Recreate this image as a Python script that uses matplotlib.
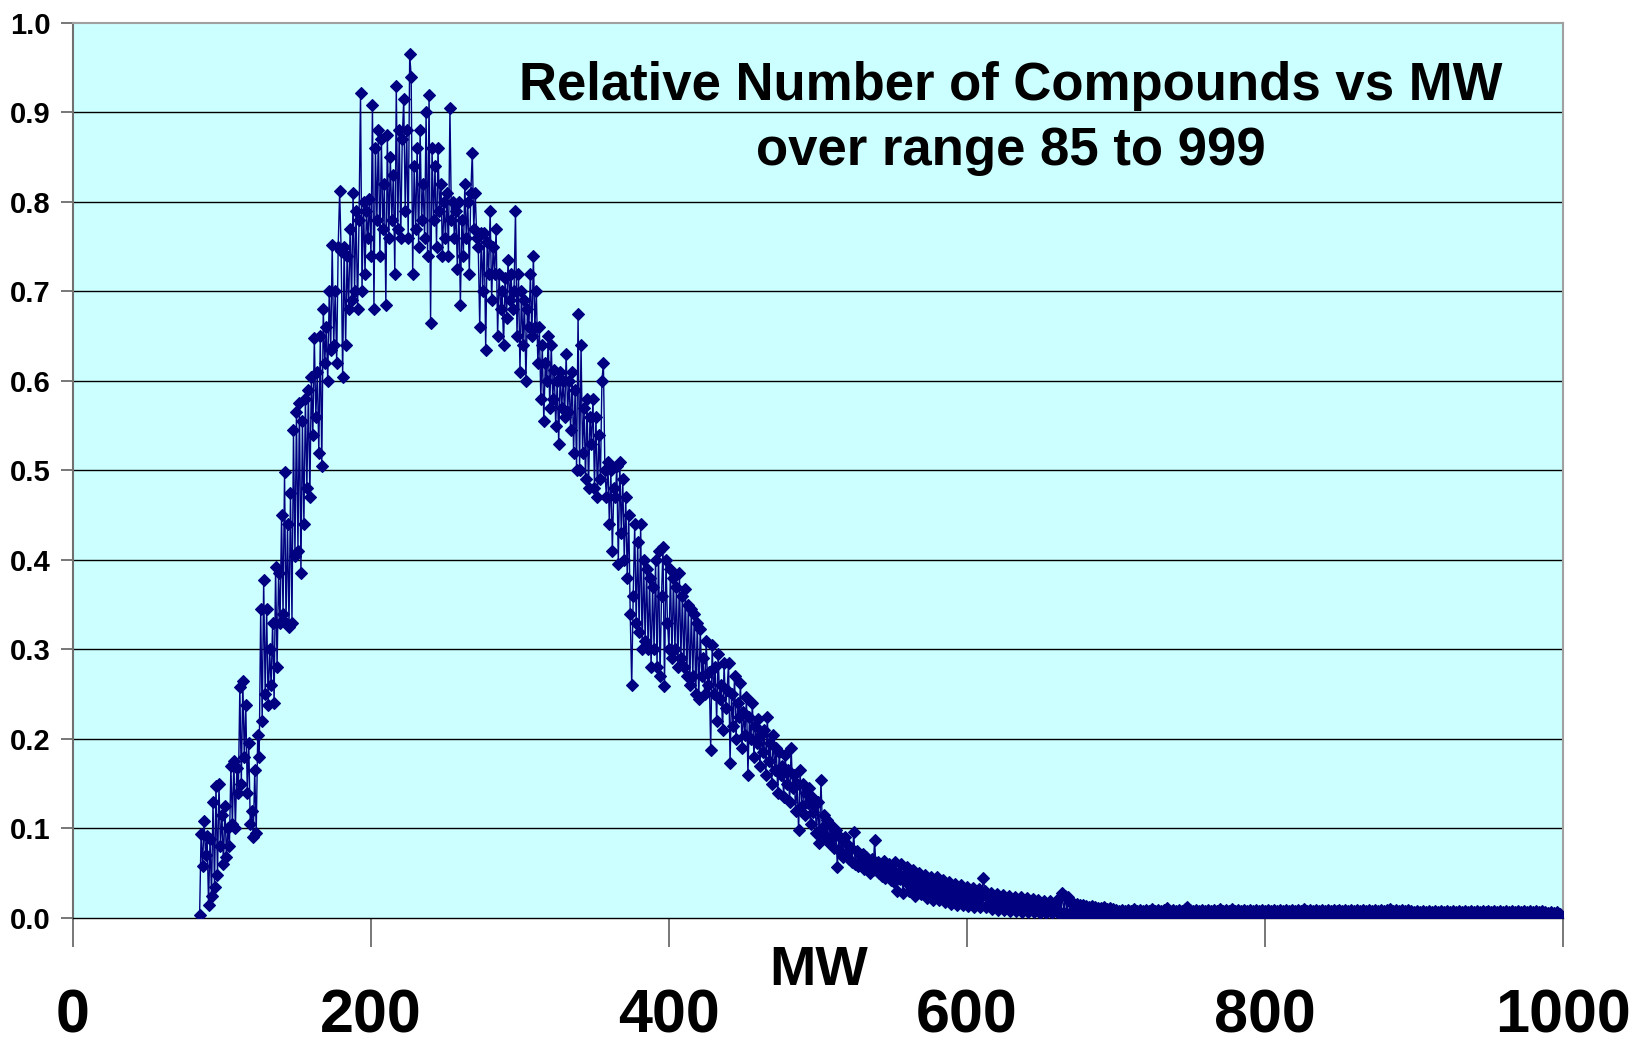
import numpy as np
import matplotlib
matplotlib.use("Agg")
import matplotlib.pyplot as plt

# molecular weights 85..999, one value per integer MW
mw_start = 85
mw_end = 999

# relative number of compounds (rows of 10 MW)
rel_085_199 = [
    0.003, 0.094, 0.058, 0.108, 0.070,
    0.092, 0.015, 0.088, 0.025, 0.130, 0.035, 0.148, 0.048, 0.150, 0.080,
    0.115, 0.060, 0.125, 0.068, 0.100, 0.080, 0.170, 0.105, 0.175, 0.100,
    0.168, 0.140, 0.258, 0.150, 0.265, 0.180, 0.238, 0.140, 0.195, 0.105,
    0.120, 0.090, 0.165, 0.095, 0.205, 0.180, 0.345, 0.220, 0.378, 0.250,
    0.345, 0.238, 0.300, 0.260, 0.330, 0.240, 0.392, 0.280, 0.385, 0.330,
    0.450, 0.340, 0.498, 0.330, 0.440, 0.325, 0.475, 0.330, 0.545, 0.405,
    0.565, 0.410, 0.575, 0.385, 0.555, 0.440, 0.580, 0.480, 0.590, 0.470,
    0.605, 0.540, 0.648, 0.560, 0.610, 0.520, 0.650, 0.505, 0.680, 0.620,
    0.660, 0.600, 0.700, 0.635, 0.752, 0.640, 0.700, 0.620, 0.750, 0.812,
    0.745, 0.605, 0.750, 0.640, 0.740, 0.680, 0.770, 0.690, 0.810, 0.700,
    0.790, 0.680, 0.780, 0.922, 0.700, 0.800, 0.720, 0.790, 0.760, 0.803,
]
rel_200_399 = [
    0.740, 0.908, 0.680, 0.860, 0.780, 0.880, 0.740, 0.870, 0.770, 0.820,
    0.685, 0.875, 0.760, 0.850, 0.780, 0.830, 0.720, 0.930, 0.770, 0.880,
    0.760, 0.870, 0.915, 0.790, 0.880, 0.760, 0.965, 0.940, 0.720, 0.840,
    0.770, 0.860, 0.750, 0.880, 0.780, 0.820, 0.760, 0.900, 0.740, 0.920,
    0.665, 0.860, 0.780, 0.840, 0.750, 0.860, 0.790, 0.820, 0.740, 0.800,
    0.760, 0.810, 0.740, 0.905, 0.780, 0.800, 0.760, 0.790, 0.725, 0.800,
    0.685, 0.780, 0.740, 0.820, 0.760, 0.800, 0.720, 0.810, 0.855, 0.770,
    0.810, 0.760, 0.750, 0.660, 0.765, 0.700, 0.765, 0.635, 0.755, 0.720,
    0.790, 0.690, 0.750, 0.720, 0.770, 0.650, 0.720, 0.680, 0.700, 0.640,
    0.715, 0.670, 0.735, 0.690, 0.720, 0.680, 0.700, 0.790, 0.650, 0.720,
    0.610, 0.700, 0.640, 0.690, 0.600, 0.680, 0.660, 0.720, 0.650, 0.740,
    0.660, 0.700, 0.620, 0.660, 0.580, 0.640, 0.555, 0.620, 0.600, 0.650,
    0.570, 0.640, 0.580, 0.612, 0.550, 0.600, 0.530, 0.610, 0.570, 0.600,
    0.560, 0.630, 0.565, 0.600, 0.545, 0.610, 0.520, 0.590, 0.500, 0.675,
    0.500, 0.640, 0.520, 0.570, 0.490, 0.580, 0.480, 0.560, 0.530, 0.580,
    0.480, 0.560, 0.470, 0.540, 0.490, 0.600, 0.620, 0.500, 0.470, 0.510,
    0.440, 0.500, 0.410, 0.480, 0.470, 0.505, 0.395, 0.510, 0.430, 0.490,
    0.400, 0.470, 0.380, 0.450, 0.340, 0.260, 0.360, 0.440, 0.330, 0.420,
    0.320, 0.440, 0.300, 0.400, 0.310, 0.390, 0.300, 0.380, 0.280, 0.370,
    0.300, 0.400, 0.280, 0.410, 0.270, 0.360, 0.415, 0.259, 0.400, 0.330,
]
rel_400_679 = [
    0.300, 0.390, 0.290, 0.380, 0.300, 0.370, 0.280, 0.385, 0.290, 0.360,
    0.280, 0.368, 0.270, 0.350, 0.260, 0.345, 0.270, 0.340, 0.250, 0.330,
    0.245, 0.323, 0.270, 0.290, 0.250, 0.310, 0.260, 0.275, 0.188, 0.305,
    0.250, 0.280, 0.220, 0.295, 0.245, 0.260, 0.210, 0.285, 0.235, 0.255,
    0.285, 0.173, 0.250, 0.215, 0.270, 0.200, 0.240, 0.225, 0.262, 0.190,
    0.230, 0.205, 0.247, 0.160, 0.225, 0.200, 0.240, 0.180, 0.215, 0.195,
    0.222, 0.170, 0.205, 0.185, 0.210, 0.160, 0.225, 0.175, 0.195, 0.150,
    0.205, 0.165, 0.190, 0.140, 0.185, 0.160, 0.170, 0.135, 0.182, 0.150,
    0.165, 0.130, 0.190, 0.145, 0.160, 0.120, 0.150, 0.098, 0.165, 0.125,
    0.150, 0.115, 0.140, 0.128, 0.145, 0.105, 0.135, 0.118, 0.128, 0.095,
    0.130, 0.084, 0.154, 0.100, 0.115, 0.092, 0.110, 0.085, 0.105, 0.090,
    0.100, 0.078, 0.098, 0.057, 0.092, 0.075, 0.088, 0.068, 0.090, 0.070,
    0.082, 0.066, 0.078, 0.063, 0.096, 0.060, 0.075, 0.058, 0.070, 0.062,
    0.072, 0.055, 0.068, 0.058, 0.065, 0.050, 0.066, 0.054, 0.087, 0.054,
    0.062, 0.050, 0.058, 0.047, 0.064, 0.045, 0.056, 0.048, 0.060, 0.042,
    0.055, 0.040, 0.062, 0.030, 0.050, 0.044, 0.060, 0.028, 0.048, 0.040,
    0.057, 0.030, 0.045, 0.038, 0.054, 0.025, 0.046, 0.035, 0.050, 0.027,
    0.040, 0.032, 0.048, 0.022, 0.042, 0.030, 0.046, 0.020, 0.038, 0.030,
    0.046, 0.020, 0.035, 0.028, 0.042, 0.018, 0.036, 0.025, 0.040, 0.016,
    0.032, 0.024, 0.038, 0.015, 0.033, 0.022, 0.037, 0.014, 0.030, 0.020,
    0.035, 0.013, 0.028, 0.020, 0.033, 0.012, 0.026, 0.018, 0.032, 0.012,
    0.025, 0.045, 0.030, 0.012, 0.022, 0.017, 0.028, 0.010, 0.024, 0.016,
    0.027, 0.009, 0.020, 0.015, 0.026, 0.009, 0.019, 0.014, 0.025, 0.008,
    0.018, 0.013, 0.024, 0.008, 0.017, 0.013, 0.023, 0.007, 0.016, 0.012,
    0.022, 0.007, 0.016, 0.012, 0.021, 0.007, 0.015, 0.011, 0.020, 0.006,
    0.015, 0.011, 0.019, 0.006, 0.014, 0.010, 0.019, 0.006, 0.013, 0.010,
    0.018, 0.006, 0.022, 0.006, 0.028, 0.006, 0.025, 0.005, 0.024, 0.006,
    0.017, 0.006, 0.016, 0.005, 0.016, 0.005, 0.015, 0.005, 0.015, 0.005,
]
rel_680_999 = [
    0.013, 0.005, 0.012, 0.004, 0.013, 0.005, 0.012, 0.004, 0.011, 0.004,
    0.011, 0.004, 0.012, 0.004, 0.010, 0.004, 0.011, 0.003, 0.010, 0.004,
    0.009, 0.003, 0.008, 0.004, 0.009, 0.003, 0.008, 0.003, 0.009, 0.004,
    0.008, 0.003, 0.010, 0.004, 0.008, 0.003, 0.009, 0.003, 0.008, 0.004,
    0.009, 0.003, 0.008, 0.003, 0.010, 0.004, 0.008, 0.003, 0.009, 0.003,
    0.008, 0.004, 0.009, 0.003, 0.011, 0.003, 0.008, 0.004, 0.009, 0.003,
    0.008, 0.003, 0.009, 0.004, 0.008, 0.003, 0.010, 0.004, 0.012, 0.003,
    0.009, 0.003, 0.008, 0.004, 0.009, 0.003, 0.008, 0.003, 0.009, 0.004,
    0.008, 0.003, 0.009, 0.003, 0.008, 0.004, 0.009, 0.003, 0.008, 0.003,
    0.010, 0.003, 0.008, 0.004, 0.009, 0.003, 0.008, 0.003, 0.010, 0.004,
    0.008, 0.003, 0.009, 0.003, 0.008, 0.004, 0.009, 0.003, 0.008, 0.003,
    0.009, 0.004, 0.008, 0.003, 0.009, 0.003, 0.008, 0.004, 0.009, 0.003,
    0.008, 0.003, 0.009, 0.004, 0.008, 0.003, 0.009, 0.003, 0.008, 0.004,
    0.009, 0.003, 0.008, 0.003, 0.009, 0.004, 0.008, 0.003, 0.009, 0.003,
    0.008, 0.004, 0.009, 0.003, 0.008, 0.003, 0.010, 0.004, 0.008, 0.003,
    0.009, 0.003, 0.008, 0.004, 0.009, 0.003, 0.008, 0.003, 0.009, 0.004,
    0.008, 0.003, 0.009, 0.003, 0.008, 0.004, 0.009, 0.003, 0.008, 0.003,
    0.009, 0.004, 0.008, 0.003, 0.009, 0.003, 0.008, 0.004, 0.009, 0.003,
    0.008, 0.003, 0.009, 0.004, 0.008, 0.003, 0.009, 0.003, 0.008, 0.004,
    0.009, 0.003, 0.008, 0.003, 0.009, 0.004, 0.008, 0.003, 0.009, 0.003,
    0.008, 0.004, 0.009, 0.003, 0.010, 0.003, 0.008, 0.004, 0.009, 0.003,
    0.008, 0.003, 0.009, 0.004, 0.008, 0.003, 0.009, 0.003, 0.008, 0.004,
    0.007, 0.003, 0.008, 0.003, 0.007, 0.004, 0.008, 0.003, 0.007, 0.003,
    0.008, 0.003, 0.007, 0.004, 0.008, 0.003, 0.007, 0.003, 0.008, 0.004,
    0.007, 0.003, 0.008, 0.003, 0.007, 0.004, 0.008, 0.003, 0.007, 0.003,
    0.008, 0.004, 0.007, 0.003, 0.008, 0.003, 0.007, 0.004, 0.008, 0.003,
    0.007, 0.003, 0.008, 0.004, 0.007, 0.003, 0.008, 0.003, 0.007, 0.004,
    0.008, 0.003, 0.007, 0.003, 0.008, 0.004, 0.007, 0.003, 0.008, 0.003,
    0.007, 0.004, 0.008, 0.003, 0.007, 0.003, 0.008, 0.004, 0.007, 0.003,
    0.008, 0.003, 0.007, 0.004, 0.008, 0.003, 0.007, 0.003, 0.008, 0.004,
    0.007, 0.003, 0.008, 0.003, 0.007, 0.004, 0.008, 0.003, 0.007, 0.003,
    0.006, 0.003, 0.007, 0.003, 0.006, 0.002, 0.007, 0.003, 0.005, 0.002,
]

x_ticks = [0, 200, 400, 600, 800, 1000]
y_ticks = [0.0, 0.1, 0.2, 0.3, 0.4, 0.5, 0.6, 0.7, 0.8, 0.9, 1.0]

rel = rel_085_199 + rel_200_399 + rel_400_679 + rel_680_999
mw = np.arange(mw_start, mw_start + len(rel))

plt.rcParams['font.family'] = ['Liberation Sans', 'DejaVu Sans']
plt.rcParams['font.weight'] = 'bold'

fig = plt.figure(figsize=(16.43, 10.44), dpi=100)
ax = fig.add_axes([0.0444, 0.1207, 0.9069, 0.8573])
ax.set_facecolor('#CCFFFF')

ax.plot(mw, rel, color='#000080', lw=1.0, marker='D', markersize=6.5,
        markeredgewidth=0.8, zorder=3)

ax.set_xlim(0, 1000)
ax.set_ylim(0, 1.0)
ax.set_yticks(y_ticks)
ax.set_yticklabels([f'{v:.1f}' for v in y_ticks])
ax.set_xticks(x_ticks)
ax.set_xticklabels([str(v) for v in x_ticks])

for v in y_ticks[1:-1]:
    ax.axhline(v, color='black', lw=1.0, zorder=1)

for s in ['top', 'right']:
    ax.spines[s].set_color('#a0a0a0')
    ax.spines[s].set_linewidth(1.5)
ax.spines['left'].set_color('#707070')
ax.spines['left'].set_linewidth(1.5)
ax.spines['bottom'].set_color('black')
ax.spines['bottom'].set_linewidth(1.0)

ax.tick_params(axis='y', direction='out', length=9, width=1.2, color='#606060',
               labelsize=21, pad=7)
ax.tick_params(axis='x', direction='out', length=21, width=1.2, color='#606060',
               labelsize=44, pad=30)

fig.text(0.498, 0.0565, 'MW', ha='center', va='baseline', fontsize=40, fontweight='bold')
fig.text(0.615, 0.904, 'Relative Number of Compounds vs MW', ha='center',
         va='baseline', fontsize=38, fontweight='bold')
fig.text(0.615, 0.842, 'over range 85 to 999', ha='center',
         va='baseline', fontsize=38, fontweight='bold')

fig.savefig('out.png', dpi=100)
